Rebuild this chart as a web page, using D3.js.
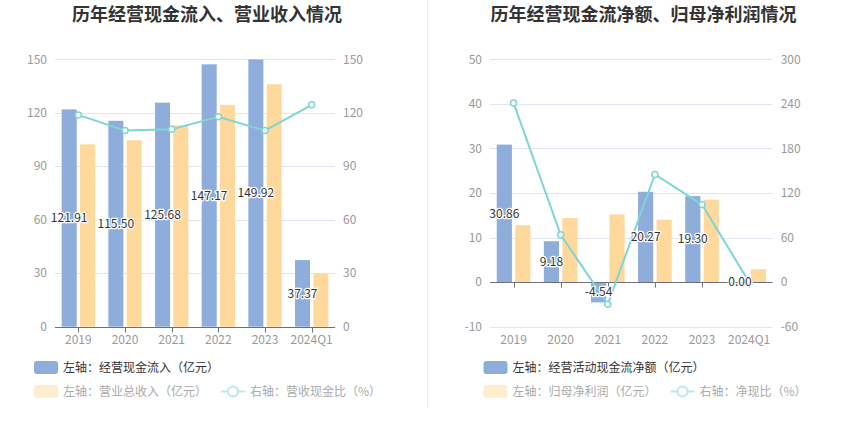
<!DOCTYPE html>
<html><head><meta charset="utf-8">
<script src="https://cdn.jsdelivr.net/npm/d3@7"></script>
<style>
html,body{margin:0;padding:0;background:#fff;}
svg{display:block;font-family:"Noto Sans CJK SC","Noto Sans",sans-serif;}
</style></head>
<body><svg id="c" width="850" height="437"></svg>
<script>
const categories = ["2019","2020","2021","2022","2023","2024Q1"];
// Left chart
const cashInflow = [121.91,115.50,125.68,147.17,149.92,37.37];
const revenue = [102.3,104.6,113.0,124.4,136.0,30.0];
const cashRevRatio = [118.8,110.0,110.7,117.8,110.0,124.5];
const leftTicksL = [0,30,60,90,120,150];
const leftTicksR = [0,30,60,90,120,150];
// Right chart
const netCashFlow = [30.86,9.18,-4.54,20.27,19.30,0.00];
const netProfit = [12.8,14.4,15.2,14.0,18.5,2.9];
const netCashRatio = [241.3,63.8,-29.9,145.0,104.4,0.0];
const rightTicksL = [-10,0,10,20,30,40,50];
const rightTicksR = [-60,0,60,120,180,240,300];

const titles = ["历年经营现金流入、营业收入情况","历年经营现金流净额、归母净利润情况"];
const legendsA = [["左轴：经营现金流入（亿元）","左轴：营业总收入（亿元）","右轴：营收现金比（%）"],
                  ["左轴：经营活动现金流净额（亿元）","左轴：归母净利润（亿元）","右轴：净现比（%）"]];

const C = {blue:"#8EADDB", orange:"#FFD89B", teal:"#7ED5D8", grid:"#E0E6F1", axis:"#6E7079", tick:"#999"};
const svg = d3.select("#c");

// divider
svg.append("line").attr("x1",427.5).attr("x2",427.5).attr("y1",0).attr("y2",408)
  .attr("stroke","#EEEEEE").attr("stroke-width",1);

function panel(cfg){
  const g = svg.append("g");
  g.append("text").attr("x",cfg.titleX).attr("y",21).attr("text-anchor","middle")
    .attr("font-size",18).attr("font-weight","bold").attr("fill","#333").text(cfg.title);
  const x = d3.scaleBand().domain(categories).range([cfg.x0,cfg.x1]).padding(0);
  const yL = d3.scaleLinear().domain(cfg.domL).range([326.7,59.3]);
  const yR = d3.scaleLinear().domain(cfg.domR).range([326.7,59.3]);
  // grid
  g.selectAll(".gr").data(cfg.ticksL).join("line")
    .attr("x1",cfg.x0).attr("x2",cfg.x1).attr("y1",d=>Math.round(yL(d))+0.5).attr("y2",d=>Math.round(yL(d))+0.5)
    .attr("stroke",C.grid);
  // axis labels
  g.selectAll(".tl").data(cfg.ticksL).join("text")
    .attr("x",cfg.x0-8).attr("y",d=>yL(d)).attr("dy","0.35em").attr("text-anchor","end")
    .attr("font-size",12).attr("fill",C.tick).text(d=>d);
  g.selectAll(".tr").data(cfg.ticksR).join("text")
    .attr("x",cfg.x1+8).attr("y",d=>yR(d)).attr("dy","0.35em").attr("text-anchor","start")
    .attr("font-size",12).attr("fill",C.tick).text(d=>d);
  const bw = x.bandwidth();
  const barW = bw*0.322, gap = bw*0.07;
  const cx = d=>x(d)+bw/2;
  // bars
  const b1 = cfg.s1, b2 = cfg.s2;
  g.selectAll(".b1").data(categories).join("rect")
    .attr("x",d=>cx(d)-gap/2-barW).attr("width",barW)
    .attr("y",(d,i)=>Math.min(yL(b1[i]),yL(0))).attr("height",(d,i)=>Math.abs(yL(b1[i])-yL(0)))
    .attr("fill",C.blue);
  g.selectAll(".b2").data(categories).join("rect")
    .attr("x",d=>cx(d)+gap/2).attr("width",barW)
    .attr("y",(d,i)=>Math.min(yL(b2[i]),yL(0))).attr("height",(d,i)=>Math.abs(yL(b2[i])-yL(0)))
    .attr("fill",C.orange);
  // x axis at zero
  const y0 = Math.round(yL(0))+0.5;
  g.append("line").attr("x1",cfg.x0).attr("x2",cfg.x1).attr("y1",y0).attr("y2",y0).attr("stroke",C.axis);
  g.selectAll(".tk").data(categories).join("line")
    .attr("x1",d=>Math.round(cx(d))+0.5).attr("x2",d=>Math.round(cx(d))+0.5)
    .attr("y1",y0).attr("y2",y0+5).attr("stroke",C.axis);
  g.selectAll(".xl").data(categories).join("text")
    .attr("x",d=>cx(d)).attr("y",344).attr("text-anchor","middle")
    .attr("font-size",12).attr("fill",C.tick).text(d=>d);
  // line
  const line = d3.line().x((d,i)=>cx(categories[i])).y(d=>yR(d));
  g.append("path").attr("d",line(cfg.s3)).attr("fill","none").attr("stroke",C.teal).attr("stroke-width",2);
  g.selectAll(".pt").data(cfg.s3).join("circle")
    .attr("cx",(d,i)=>cx(categories[i])).attr("cy",d=>yR(d)).attr("r",3)
    .attr("fill","#fff").attr("stroke",C.teal).attr("stroke-width",1.5);
  // labels
  g.selectAll(".lb").data(b1).join("text")
    .attr("x",(d,i)=>cx(categories[i])-gap/2-barW/2).attr("y",d=>(yL(d)+yL(0))/2).attr("dy","0.35em")
    .attr("text-anchor","middle").attr("font-size",12).attr("fill","#333")
    .attr("stroke","#fff").attr("stroke-width",2.5).attr("paint-order","stroke").attr("stroke-linejoin","round")
    .text(d=>d.toFixed(2));
  // legend
  const L = cfg.legend, lx = cfg.legX;
  g.append("rect").attr("x",lx).attr("y",361).attr("width",24).attr("height",13).attr("rx",3).attr("fill",C.blue);
  g.append("text").attr("x",lx+29).attr("y",367.5).attr("dy","0.35em").attr("font-size",12).attr("fill","#333").text(L[0]);
  g.append("rect").attr("x",lx).attr("y",385).attr("width",24).attr("height",13).attr("rx",3).attr("fill","#FFEDD0");
  const t2 = g.append("text").attr("x",lx+29).attr("y",391.5).attr("dy","0.35em").attr("font-size",12).attr("fill","#AAA").text(L[1]);
  const w2 = t2.node().getComputedTextLength();
  const ix = lx+29+w2+14;
  g.append("line").attr("x1",ix).attr("x2",ix+24).attr("y1",391.5).attr("y2",391.5).attr("stroke","#B8E9EB").attr("stroke-width",2);
  g.append("circle").attr("cx",ix+12).attr("cy",391.5).attr("r",5).attr("fill","#fff").attr("stroke","#B8E9EB").attr("stroke-width",2);
  g.append("text").attr("x",ix+29).attr("y",391.5).attr("dy","0.35em").attr("font-size",12).attr("fill","#AAA").text(L[2]);
}

panel({title:titles[0], titleX:207, x0:55, x1:335, domL:[0,150], domR:[0,150],
  ticksL:leftTicksL, ticksR:leftTicksR, s1:cashInflow, s2:revenue, s3:cashRevRatio,
  legend:legendsA[0], legX:34});
panel({title:titles[1], titleX:643.5, x0:490, x1:772.7, domL:[-10,50], domR:[-60,300],
  ticksL:rightTicksL, ticksR:rightTicksR, s1:netCashFlow, s2:netProfit, s3:netCashRatio,
  legend:legendsA[1], legX:483.5});
</script></body></html>
